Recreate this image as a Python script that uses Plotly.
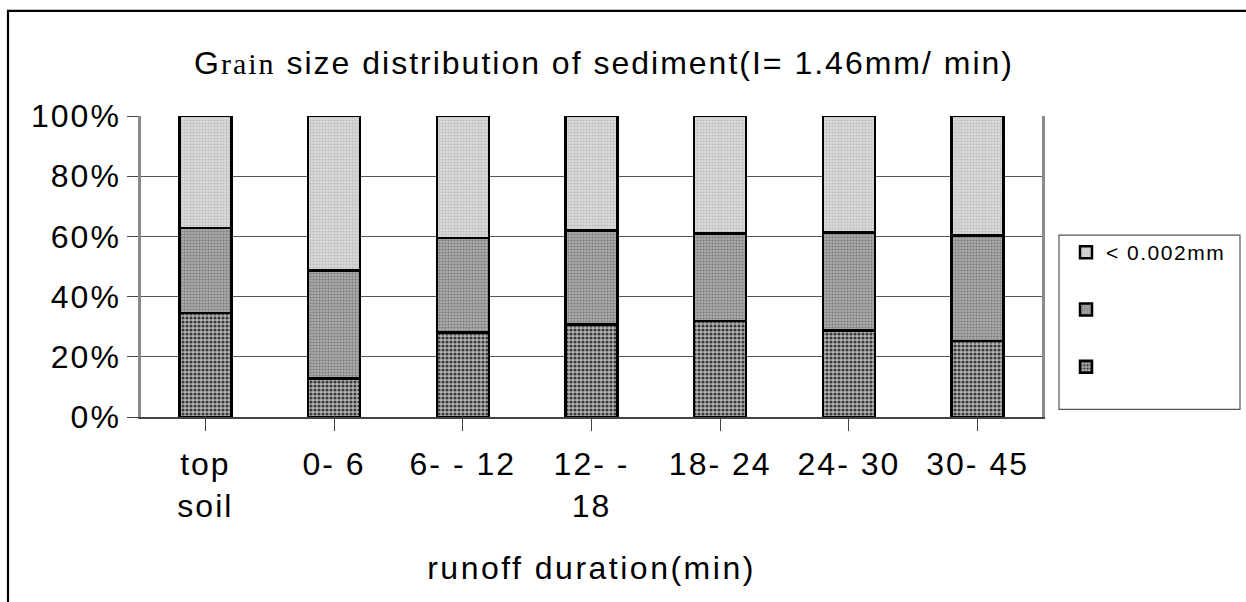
import plotly.graph_objects as go

categories = ["top<br>soil", "0- 6", "6- - 12", "12- -<br>18", "18- 24", "24- 30", "30- 45"]
series_names = ["< 0.002mm", " ", "  "]
fine = [37.2, 51.4, 40.6, 38.1, 39.1, 38.7, 39.7]      # top segment
middle = [28.3, 35.8, 31.4, 31.1, 29.0, 32.6, 35.1]
coarse = [34.5, 12.8, 28.0, 30.8, 31.9, 28.7, 25.2]     # bottom segment
y_tickvals = [0, 20, 40, 60, 80, 100]
y_ticktext = ["0%", "20%", "40%", "60%", "80%", "100%"]

W, H = 1246, 602
L, R, T, B = 141, 1042, 116, 416.7
pw, ph = R - L, B - T


def px(x):
    return (x - L) / pw


def py(y):
    return (B - y) / ph


FONT = "Liberation Sans, Arial, sans-serif"
LS = "letter-spacing:2px"

xpos = list(range(len(categories)))
ticktext = [f"<span style='{LS}'>{c}</span>" for c in categories]

fig = go.Figure()
fig.add_trace(go.Bar(
    x=xpos, y=coarse, name=series_names[2], legendgroup="c", legendrank=3,
    marker=dict(color="#888888", line=dict(color="black", width=2.5),
                pattern=dict(shape=".", fgcolor="#3a3a3a", bgcolor="#b4b4b4",
                             size=4, solidity=0.5, fillmode="replace")),
))
fig.add_trace(go.Bar(
    x=xpos, y=middle, name=series_names[1], legendgroup="b", legendrank=2,
    marker=dict(color="#9c9c9c", line=dict(color="black", width=2.5),
                pattern=dict(shape=".", fgcolor="#7a7a7a", bgcolor="#ababab",
                             size=3, solidity=0.4, fillmode="replace")),
))
fig.add_trace(go.Bar(
    x=xpos, y=fine, name=f"<span style='letter-spacing:1.5px'>{series_names[0]}</span>",
    legendgroup="a", legendrank=1,
    marker=dict(color="#cccccc", line=dict(color="black", width=2.5),
                pattern=dict(shape=".", fgcolor="#bcbcbc", bgcolor="#dadada",
                             size=3, solidity=0.4, fillmode="replace")),
))

title_text = ("<span style='letter-spacing:2px'>G<span style='font-family:Liberation Serif, Times New Roman, serif;font-size:30px'>rain</span>"
              " size distribution of sediment(I= 1.46mm/ min)</span>")

fig.update_layout(
    width=W, height=H,
    margin=dict(l=L, r=W - R, t=T, b=H - B, pad=0),
    paper_bgcolor="white", plot_bgcolor="white",
    barmode="stack", bargap=0.596,
    font=dict(family=FONT, size=32, color="black"),
    title=dict(text=title_text, x=604 / W, xref="container", xanchor="center",
               y=1 - 63 / H, yref="container", yanchor="middle",
               font=dict(family=FONT, size=32, color="black")),
    xaxis=dict(
        tickmode="array", tickvals=xpos, ticktext=ticktext,
        range=[-0.5, len(categories) - 0.5],
        ticks="outside", ticklen=12, tickwidth=1.2, tickcolor="#444444",
        tickson="boundaries", showgrid=False,
        showline=True, linecolor="#444444", linewidth=1.5,
        ticklabelstandoff=6,
        title=dict(text=f"<span style='letter-spacing:2.5px'>runoff duration(min)</span>",
                   font=dict(size=32), standoff=34),
    ),
    yaxis=dict(
        range=[0, 100], tickmode="array", tickvals=y_tickvals,
        ticktext=[f"<span style='{LS}'>{t}</span>" for t in y_ticktext],
        ticks="outside", ticklen=11, tickwidth=1.2, tickcolor="#444444",
        showgrid=True, gridcolor="#555555", gridwidth=1.2,
        showline=True, linecolor="#8a8a8a", linewidth=2.5, mirror=True,
        zeroline=False, ticklabelstandoff=0,
    ),
    legend=dict(
        x=px(1066), y=py(232), xanchor="left", yanchor="top",
        font=dict(family=FONT, size=21), bgcolor="rgba(0,0,0,0)",
        borderwidth=0, traceorder="grouped", tracegroupgap=27,
        itemwidth=30,
    ),
    showlegend=True,
)

# legend frame
fig.add_shape(type="rect", xref="paper", yref="paper",
              x0=px(1059), x1=px(1240), y0=py(409), y1=py(235),
              line=dict(color="#555555", width=1.2), fillcolor="rgba(0,0,0,0)", layer="below")
# outer chart border
fig.add_shape(type="rect", xref="paper", yref="paper",
              x0=px(8), x1=px(1260), y0=py(620), y1=py(11),
              line=dict(color="black", width=2.2), fillcolor="rgba(0,0,0,0)")

fig.write_html("out.html")
